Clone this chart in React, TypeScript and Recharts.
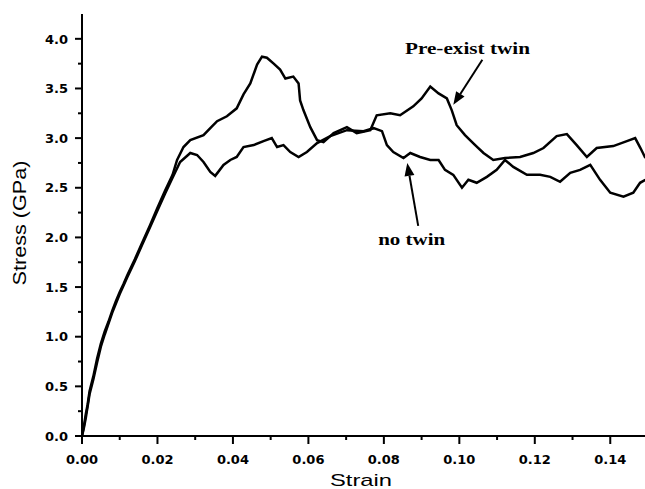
import React from "react";
import {
  LineChart,
  Line,
  XAxis,
  YAxis,
  ReferenceLine,
  ReferenceDot,
} from "recharts";

// ---- data ----
const preStrain = [
  0, 0.0005, 0.001, 0.0015, 0.002, 0.003, 0.004, 0.005, 0.006, 0.007, 0.008, 0.009, 0.01, 0.011,
  0.012, 0.014, 0.016, 0.018, 0.02, 0.022, 0.024, 0.0252, 0.0269, 0.0287, 0.0322, 0.034, 0.0358,
  0.0384, 0.041, 0.0428, 0.0446, 0.0464, 0.0477, 0.049, 0.0508, 0.0525, 0.0539, 0.056, 0.0574,
  0.0578, 0.0587, 0.0605, 0.0623, 0.064, 0.0667, 0.0702, 0.0728, 0.0764, 0.0781, 0.0817, 0.0843,
  0.0878, 0.09, 0.0923, 0.0945, 0.0967, 0.098, 0.0993, 0.1015, 0.1042, 0.1064, 0.109, 0.1121,
  0.1161, 0.1196, 0.1223, 0.1258, 0.1285, 0.1311, 0.1338, 0.1364, 0.1408, 0.1444, 0.1466, 0.148,
  0.1493,
];
const preStress = [
  0, 0.1, 0.22, 0.32, 0.45, 0.6, 0.78, 0.93, 1.05, 1.15, 1.26, 1.36, 1.45, 1.53, 1.62, 1.78, 1.95,
  2.12, 2.3, 2.47, 2.63, 2.78, 2.91, 2.98, 3.03, 3.1, 3.17, 3.22, 3.3, 3.44, 3.55, 3.74, 3.82, 3.81,
  3.75, 3.69, 3.6, 3.62, 3.55, 3.38, 3.28, 3.11, 2.98, 2.96, 3.05, 3.11, 3.05, 3.08, 3.23, 3.25,
  3.23, 3.32, 3.4, 3.52, 3.45, 3.4, 3.28, 3.13, 3.03, 2.93, 2.85, 2.78, 2.8, 2.81, 2.85, 2.9, 3.02,
  3.04, 2.93, 2.81, 2.9, 2.92, 2.97, 3.0, 2.9, 2.8,
];

const noStrain = [
  0, 0.0005, 0.001, 0.002, 0.003, 0.004, 0.005, 0.006, 0.008, 0.01, 0.012, 0.014, 0.016, 0.018,
  0.02, 0.022, 0.024, 0.026, 0.0287, 0.0305, 0.0322, 0.034, 0.0353, 0.0375, 0.0393, 0.041, 0.0428,
  0.0455, 0.0481, 0.0503, 0.0517, 0.0534, 0.0552, 0.0574, 0.0596, 0.0623, 0.0658, 0.0702, 0.0746,
  0.0773, 0.0795, 0.0808, 0.0825, 0.0852, 0.087, 0.0896, 0.0923, 0.0945, 0.0962, 0.0984, 0.1007,
  0.1024, 0.1046, 0.1073, 0.1099, 0.1121, 0.1143, 0.1179, 0.1214, 0.1241, 0.1267, 0.1294, 0.132,
  0.1347, 0.1373, 0.14, 0.1435, 0.1461, 0.1479, 0.1493,
];
const noStress = [
  0, 0.08, 0.18, 0.42, 0.57, 0.74, 0.9, 1.02, 1.24, 1.43, 1.6, 1.76, 1.93, 2.1, 2.27, 2.44, 2.6,
  2.76, 2.85, 2.83, 2.76, 2.66, 2.62, 2.73, 2.78, 2.81, 2.91, 2.93, 2.97, 3.0, 2.91, 2.93, 2.86,
  2.81, 2.86, 2.95, 3.02, 3.08, 3.07, 3.1, 3.07, 2.93, 2.86, 2.8, 2.85, 2.81, 2.78, 2.78, 2.68,
  2.63, 2.5, 2.58, 2.55, 2.61, 2.68, 2.78, 2.71, 2.63, 2.63, 2.61, 2.56, 2.65, 2.68, 2.73, 2.58,
  2.45, 2.41, 2.45, 2.55, 2.58,
];

const xTicks = [0, 0.01, 0.02, 0.03, 0.04, 0.05, 0.06, 0.07, 0.08, 0.09, 0.1, 0.11, 0.12, 0.13, 0.14];
const yTicks = [
  0, 0.25, 0.5, 0.75, 1, 1.25, 1.5, 1.75, 2, 2.25, 2.5, 2.75, 3, 3.25, 3.5, 3.75, 4,
];

const preData = preStrain.map((s, i) => ({ strain: s, stress: preStress[i] }));
const noData = noStrain.map((s, i) => ({ strain: s, stress: noStress[i] }));

const isMajor = (v: number, step: number) => Math.abs(Math.round(v / step) * step - v) < 1e-9;

const TICK_FONT = { fontFamily: "DejaVu Sans", fontWeight: 700, fontSize: 13, fill: "#000" } as const;

const BottomTick = (props: any) => {
  const { x, y, payload } = props;
  const v = payload.value as number;
  const major = isMajor(v, 0.02);
  return (
    <g>
      <line x1={x} y1={y} x2={x} y2={y + (major ? 8 : 4)} stroke="#000" strokeWidth={2} />
      {major && (
        <text x={x} y={y + 28} textAnchor="middle" {...TICK_FONT}>
          {v.toFixed(2)}
        </text>
      )}
    </g>
  );
};

const TopTick = (props: any) => {
  const { x, y, payload } = props;
  const major = isMajor(payload.value, 0.02);
  return <line x1={x} y1={y} x2={x} y2={y + (major ? 8 : 4)} stroke="#000" strokeWidth={2} />;
};

const LeftTick = (props: any) => {
  const { x, y, payload } = props;
  const v = payload.value as number;
  const major = isMajor(v, 0.5);
  return (
    <g>
      <line x1={x} y1={y} x2={x - (major ? 7 : 4)} y2={y} stroke="#000" strokeWidth={2} />
      {major && (
        <text x={x - 14} y={y} dy="0.36em" textAnchor="end" {...TICK_FONT}>
          {v.toFixed(1)}
        </text>
      )}
    </g>
  );
};

const RightTick = (props: any) => {
  const { x, y, payload } = props;
  const major = isMajor(payload.value, 0.5);
  return <line x1={x} y1={y} x2={x - (major ? 7 : 4)} y2={y} stroke="#000" strokeWidth={2} />;
};

const Arrow = (props: any) => {
  const { x1, y1, x2, y2 } = props;
  const dx = x2 - x1;
  const dy = y2 - y1;
  const len = Math.sqrt(dx * dx + dy * dy) || 1;
  const ux = dx / len;
  const uy = dy / len;
  const hl = 13;
  const hw = 5;
  const bx = x2 - ux * hl;
  const by = y2 - uy * hl;
  const px = -uy * hw;
  const py = ux * hw;
  return (
    <g>
      <line x1={x1} y1={y1} x2={bx} y2={by} stroke="#000" strokeWidth={2} />
      <polygon
        points={`${x2},${y2} ${bx + px},${by + py} ${bx - px},${by - py}`}
        fill="#000"
      />
    </g>
  );
};

const makeLabel = (text: string, length: number) => (props: any) => {
  const { cx, cy } = props;
  return (
    <text
      x={cx}
      y={cy}
      fontFamily="Liberation Serif"
      fontWeight={700}
      fontSize={17}
      fill="#000"
      textLength={length}
      lengthAdjust="spacingAndGlyphs"
    >
      {text}
    </text>
  );
};

const XTitle = (props: any) => {
  const vb = props.viewBox;
  return (
    <text
      x={vb.x + vb.width / 2 - 4}
      y={vb.y + 50}
      textAnchor="middle"
      fontFamily="Liberation Sans"
      fontSize={17}
      fill="#000"
      textLength={62}
      lengthAdjust="spacingAndGlyphs"
    >
      Strain
    </text>
  );
};

const YTitle = (props: any) => {
  const vb = props.viewBox;
  const cx = 26;
  const cy = vb.y + vb.height / 2 - 2;
  return (
    <text
      x={cx}
      y={cy}
      transform={`rotate(-90 ${cx} ${cy})`}
      textAnchor="middle"
      fontFamily="Liberation Sans"
      fontSize={19}
      fill="#000"
      textLength={125}
      lengthAdjust="spacingAndGlyphs"
    >
      Stress (GPa)
    </text>
  );
};

export default function App() {
  return (
    <div
      style={{
        position: "absolute",
        left: 0,
        top: 0,
        width: 645,
        height: 489,
        overflow: "hidden",
        background: "#fff",
      }}
    >
      <LineChart width={660} height={489} margin={{ top: 14, right: 12, left: 0, bottom: 0 }}>
        <XAxis
          xAxisId="b"
          dataKey="strain"
          type="number"
          domain={[0, 0.15]}
          ticks={xTicks}
          interval={0}
          height={53}
          orientation="bottom"
          stroke="#000"
          axisLine={{ stroke: "#000", strokeWidth: 2 }}
          tickLine={false}
          tickSize={0}
          tickMargin={0}
          tick={<BottomTick />}
          label={<XTitle />}
          allowDataOverflow
        />
        <XAxis
          xAxisId="t"
          type="number"
          domain={[0, 0.15]}
          ticks={xTicks}
          interval={0}
          height={0}
          orientation="top"
          axisLine={{ stroke: "#000", strokeWidth: 2 }}
          tickLine={false}
          tickSize={0}
          tickMargin={0}
          tick={<TopTick />}
          allowDataOverflow
        />
        <YAxis
          yAxisId="l"
          type="number"
          domain={[0, 4.25]}
          ticks={yTicks}
          interval={0}
          width={82}
          orientation="left"
          axisLine={{ stroke: "#000", strokeWidth: 2 }}
          tickLine={false}
          tickSize={0}
          tickMargin={0}
          tick={<LeftTick />}
          label={<YTitle />}
          allowDataOverflow
        />
        <YAxis
          yAxisId="r"
          type="number"
          domain={[0, 4.25]}
          ticks={yTicks}
          interval={0}
          width={0}
          orientation="right"
          axisLine={{ stroke: "#000", strokeWidth: 2 }}
          tickLine={false}
          tickSize={0}
          tickMargin={0}
          tick={<RightTick />}
          allowDataOverflow
        />
        <Line
          xAxisId="b"
          yAxisId="l"
          data={noData}
          dataKey="stress"
          type="linear"
          stroke="#000"
          strokeWidth={2.5}
          dot={false}
          isAnimationActive={false}
        />
        <Line
          xAxisId="b"
          yAxisId="l"
          data={preData}
          dataKey="stress"
          type="linear"
          stroke="#000"
          strokeWidth={2.5}
          dot={false}
          isAnimationActive={false}
        />
        <ReferenceLine
          xAxisId="b"
          yAxisId="l"
          segment={[
            { x: 0.1061, y: 3.79 },
            { x: 0.0984, y: 3.335 },
          ]}
          shape={(p: any) => <Arrow {...p} />}
        />
        <ReferenceLine
          xAxisId="b"
          yAxisId="l"
          segment={[
            { x: 0.0891, y: 2.116 },
            { x: 0.0862, y: 2.75 },
          ]}
          shape={(p: any) => <Arrow {...p} />}
        />
        <ReferenceDot
          xAxisId="b"
          yAxisId="l"
          x={0.0856}
          y={3.85}
          r={0}
          shape={makeLabel("Pre-exist twin", 125)}
        />
        <ReferenceDot
          xAxisId="b"
          yAxisId="l"
          x={0.0785}
          y={1.924}
          r={0}
          shape={makeLabel("no twin", 67)}
        />
      </LineChart>
    </div>
  );
}
